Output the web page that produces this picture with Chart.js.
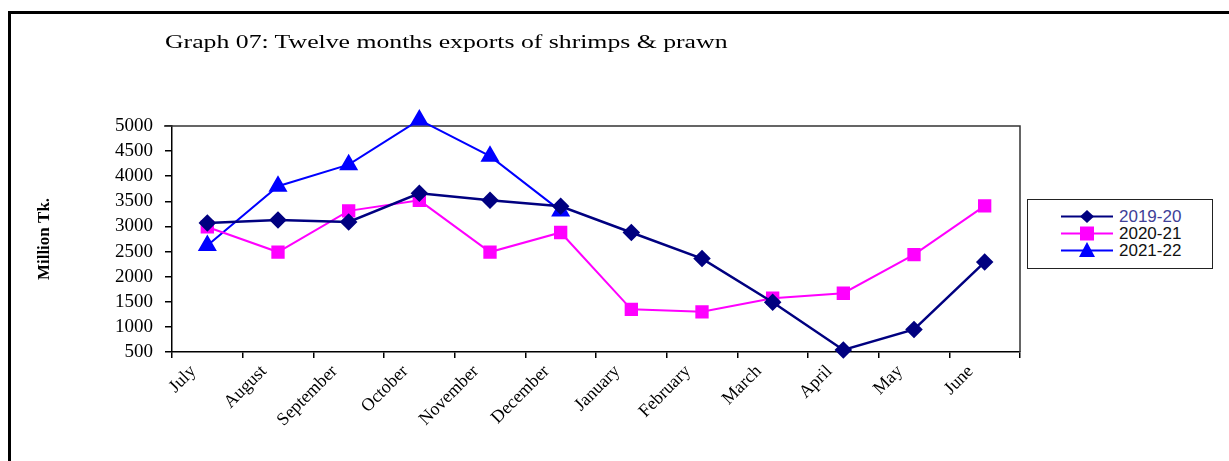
<!DOCTYPE html>
<html>
<head>
<meta charset="utf-8">
<script src="https://cdn.jsdelivr.net/npm/chart.js@4"></script>
<style>
  html, body { margin: 0; padding: 0; background: #fff; }
  #wrap { position: relative; width: 1229px; height: 461px; overflow: hidden; }
  #frame { position: absolute; left: 8px; top: 11px; width: 1240px; height: 470px;
           border-left: 3px solid #000; border-top: 3px solid #000; }
  #title { position: absolute; left: 165px; top: 32px; font: 18px "Liberation Serif", "Times New Roman", serif; color: #000;
           transform: scaleX(1.43); transform-origin: left top; white-space: nowrap; }
  #legend { position: absolute; left: 1027px; top: 199px; width: 186px; height: 70px;
            border: 1.5px solid #222; background: #fff; box-sizing: border-box; padding-top: 8px; }
  .item { display: flex; align-items: center; height: 17px; padding-left: 33px; }
  .item span { font: 17px "Liberation Sans", Arial, sans-serif; margin-left: 6px; }
  canvas#chart { position: absolute; left: 0; top: 0; }
</style>
</head>
<body>
<div id="wrap">
  <div id="frame"></div>
  <canvas id="chart" width="1229" height="461"></canvas>
  <div id="title">Graph 07: Twelve months exports of shrimps &amp; prawn</div>
  <div id="legend"></div>
</div>
<script>
const months = ['July', 'August', 'September', 'October', 'November', 'December',
                'January', 'February', 'March', 'April', 'May', 'June'];
const fy2019 = [3070, 3130, 3090, 3660, 3520, 3400, 2880, 2360, 1490, 540, 950, 2290];
const fy2020 = [2990, 2490, 3310, 3520, 2490, 2880, 1350, 1300, 1570, 1670, 2440, 3410];
const fy2021 = [2620, 3800, 4230, 5120, 4400, 3310, null, null, null, null, null, null];
const seriesNames = ['2019-20', '2020-21', '2021-22'];
const yTicks = [500, 1000, 1500, 2000, 2500, 3000, 3500, 4000, 4500, 5000];

const serif = '"Liberation Serif", "Times New Roman", serif';

// plot area box (top and right edges)
const plotBox = {
    id: 'plotBox',
    beforeDatasetsDraw(chart) {
        const { ctx, chartArea } = chart;
        ctx.save();
        ctx.strokeStyle = '#333';
        ctx.lineWidth = 1.5;
        ctx.beginPath();
        ctx.moveTo(chartArea.left - 8, chartArea.top);
        ctx.lineTo(chartArea.right, chartArea.top);
        ctx.lineTo(chartArea.right, chartArea.bottom);
        ctx.stroke();
        ctx.restore();
    }
};

const chart = new Chart(document.getElementById('chart'), {
    type: 'line',
    data: {
        labels: months,
        datasets: [
            {
                label: seriesNames[0], data: fy2019,
                borderColor: '#000080', backgroundColor: '#000080', borderWidth: 2.5,
                pointStyle: 'rectRot', pointRadius: 7, pointHoverRadius: 7, clip: false
            },
            {
                label: seriesNames[1], data: fy2020,
                borderColor: '#ff00ff', backgroundColor: '#ff00ff', borderWidth: 2,
                pointStyle: 'rect', pointRadius: 8, pointHoverRadius: 8, clip: false
            },
            {
                label: seriesNames[2], data: fy2021,
                borderColor: '#0000ff', backgroundColor: '#0000ff', borderWidth: 2,
                pointStyle: 'triangle', pointRadius: 9, pointHoverRadius: 9, clip: false
            }
        ]
    },
    options: {
        responsive: false,
        animation: false,
        layout: { padding: { left: 34, right: 209, top: 126, bottom: 9 } },
        plugins: { legend: { display: false }, title: { display: false }, tooltip: { enabled: false } },
        scales: {
            x: {
                offset: true,
                grid: { offset: true, drawOnChartArea: false, drawTicks: true, tickLength: 6, color: '#000', lineWidth: 1.5 },
                border: { color: '#000', width: 1.5 },
                ticks: {
                    minRotation: 45, maxRotation: 45, autoSkip: false, labelOffset: -14,
                    color: '#000', font: { family: serif, size: 18 }
                },
                afterFit(scale) { scale.height = 100; }
            },
            y: {
                min: 500, max: 5000,
                afterBuildTicks(scale) { scale.ticks = yTicks.map(v => ({ value: v })); },
                grid: { drawOnChartArea: false, drawTicks: true, tickLength: 7, color: '#000', lineWidth: 1.5 },
                border: { color: '#000', width: 1.5 },
                ticks: {
                    autoSkip: false, color: '#000', padding: 12,
                    font: { family: serif, size: 19, lineHeight: 1 },
                    callback: v => String(v)
                },
                title: {
                    display: true, text: 'Million Tk.', color: '#000',
                    font: { family: serif, size: 17, weight: 'bold' }, padding: { top: 0, bottom: 0 }
                },
                afterFit(scale) { scale.width = 138; }
            }
        }
    },
    plugins: [plotBox]
});

// legend box with line + marker icons
const legendEl = document.getElementById('legend');
chart.data.datasets.forEach((ds, i) => {
    const item = document.createElement('div');
    item.className = 'item';
    const c = ds.borderColor;
    let marker;
    if (ds.pointStyle === 'rectRot') marker = `<polygon points="26,2 33,8.5 26,15 19,8.5" fill="${c}"/>`;
    else if (ds.pointStyle === 'rect') marker = `<rect x="19" y="1.5" width="14" height="14" fill="${c}"/>`;
    else marker = `<polygon points="26,0 34,15 18,15" fill="${c}"/>`;
    item.innerHTML = `<svg width="52" height="17"><line x1="0" y1="8.5" x2="52" y2="8.5" stroke="${c}" stroke-width="2"/>${marker}</svg>` +
        `<span style="color:${i === 0 ? '#404098' : '#111'}">${ds.label}</span>`;
    legendEl.appendChild(item);
});
</script>
</body>
</html>
